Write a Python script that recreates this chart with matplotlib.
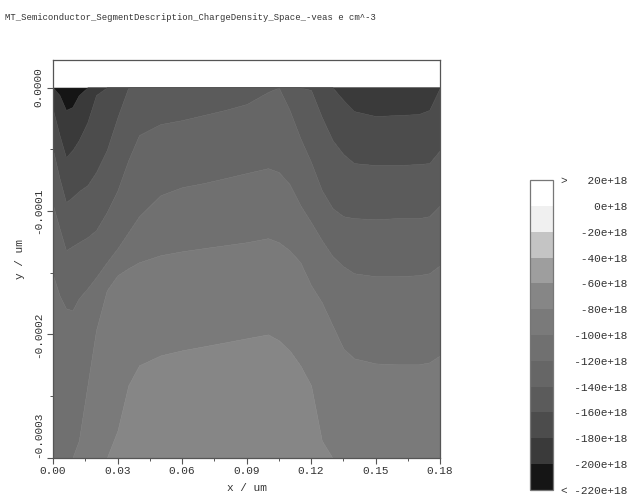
import numpy as np
import matplotlib
matplotlib.use("Agg")
import matplotlib.pyplot as plt
from matplotlib.colors import ListedColormap, BoundaryNorm
from matplotlib.cm import ScalarMappable

x_um = [0.000, 0.003, 0.006, 0.009, 0.012, 0.016, 0.020, 0.025, 0.030, 0.035,
        0.040, 0.050, 0.060, 0.070, 0.080, 0.090, 0.100, 0.105, 0.110, 0.115,
        0.120, 0.125, 0.130, 0.135, 0.140, 0.150, 0.160, 0.170, 0.175, 0.180]

# depth of each iso-line (units of 1e-5 um), from the darkest band downwards
b1 = [0.00, -0.61, -1.82, -1.58, -0.61, 0.00, 0.00, 0.00, 0.00, 0.00,
      0.00, 0.00, 0.00, 0.00, 0.00, 0.00, 0.00, 0.00, 0.00, 0.00,
      0.00, 0.00, 0.00, 0.00, 0.00, 0.00, 0.00, 0.00, 0.00, 0.00]
b2 = [-1.82, -3.85, -5.64, -5.07, -4.26, -2.80, -0.61, 0.00, 0.00, 0.00,
      0.00, 0.00, 0.00, 0.00, 0.00, 0.00, 0.00, 0.00, 0.00, 0.00,
      0.00, 0.00, 0.00, -1.01, -1.91, -2.31, -2.23, -2.15, -1.82, 0.00]
b3 = [-5.07, -7.34, -9.28, -8.88, -8.39, -7.91, -6.85, -5.07, -2.39, 0.00,
      0.00, 0.00, 0.00, 0.00, 0.00, 0.00, 0.00, 0.00, 0.00, 0.00,
      -0.20, -2.39, -4.26, -5.39, -6.12, -6.28, -6.28, -6.20, -6.12, -5.07]
b4 = [-9.53, -11.39, -13.18, -12.85, -12.53, -12.12, -11.55, -10.09, -8.31, -5.88,
      -3.85, -2.96, -2.64, -2.23, -1.82, -1.34, -0.36, 0.00, -1.82, -4.09,
      -6.04, -8.31, -9.77, -10.42, -10.58, -10.66, -10.58, -10.58, -10.42, -9.53]
b5 = [-15.20, -16.82, -17.88, -18.04, -17.07, -16.26, -15.36, -14.15, -13.01, -11.72,
      -10.42, -8.72, -8.07, -7.74, -7.34, -6.93, -6.53, -6.85, -7.82, -9.53,
      -10.91, -12.36, -13.66, -14.47, -15.04, -15.28, -15.28, -15.20, -15.04, -14.39]
b6 = [-30.00, -30.00, -30.00, -30.00, -28.58, -24.12, -19.66, -16.42, -15.20, -14.64,
      -14.15, -13.58, -13.26, -13.01, -12.77, -12.53, -12.20, -12.53, -13.18, -14.15,
      -16.01, -17.39, -19.26, -21.12, -21.93, -22.34, -22.42, -22.42, -22.26, -21.69]
b7 = [-30.00, -30.00, -30.00, -30.00, -30.00, -30.00, -30.00, -30.00, -27.77, -24.12,
      -22.50, -21.69, -21.28, -20.96, -20.64, -20.31, -19.99, -20.47, -21.28, -22.50,
      -24.12, -28.58, -30.00, -30.00, -30.00, -30.00, -30.00, -30.00, -30.00, -30.00]

# charge density of each band (e+18 cm^-3), top band first
band_values = [-210, -190, -170, -150, -130, -110, -90, -70]

levels = list(range(-220, 21, 20))
grays = ["#151515", "#3a3a3a", "#4c4c4c", "#5b5b5b", "#666666", "#707070",
         "#7a7a7a", "#868686", "#9e9e9e", "#c4c4c4", "#f0f0f0", "#ffffff"]

x_ticks = [0.00, 0.03, 0.06, 0.09, 0.12, 0.15, 0.18]
x_tick_labels = ["0.00", "0.03", "0.06", "0.09", "0.12", "0.15", "0.18"]
y_ticks = [0.0, -0.0001, -0.0002, -0.0003]
y_tick_labels = ["0.0000", "-0.0001", "-0.0002", "-0.0003"]

title = "MT_Semiconductor_SegmentDescription_ChargeDensity_Space_-veas e cm^-3"
mono = "Liberation Mono"

cmap = ListedColormap(grays)
norm = BoundaryNorm(levels, cmap.N)

fig = plt.figure(figsize=(6.32, 4.97), dpi=100)
ax = fig.add_axes([0.0839, 0.0785, 0.6123, 0.8008])

x = np.array(x_um)
top = np.zeros_like(x)
bottom = np.full_like(x, -0.0003)
bounds = [top] + [np.array(b) * 1e-5 for b in (b1, b2, b3, b4, b5, b6, b7)] + [bottom]

for k, val in enumerate(band_values):
    c = cmap(norm(val))
    ax.fill_between(x, bounds[k], bounds[k + 1], facecolor=c, edgecolor=c, lw=0.4)

ax.set_xlim(0, 0.18)
ax.set_ylim(-0.0003, 0.0000223)
ax.set_xticks(x_ticks)
ax.set_xticklabels(x_tick_labels, fontsize=8, family=mono, color="#333333")
ax.set_xticks(np.arange(0.015, 0.18, 0.03), minor=True)
ax.set_yticks(y_ticks)
ax.set_yticklabels(y_tick_labels, fontsize=8, family=mono, color="#333333",
                   rotation=90, va="center")
ax.get_yticklabels()[-1].set_va("bottom")
ax.set_yticks([-0.00005, -0.00015, -0.00025], minor=True)
ax.tick_params(which="major", direction="out", length=4, width=0.8, color="#555555")
ax.tick_params(axis="x", which="major", pad=1.5)
ax.tick_params(axis="y", which="major", pad=3)
ax.tick_params(which="minor", direction="out", length=2.5, width=0.7, color="#555555")
ax.set_xlabel("x / um", fontsize=8, family=mono, color="#333333", labelpad=5)
ax.set_ylabel("y / um", fontsize=8, family=mono, color="#333333", labelpad=6)
for s in ax.spines.values():
    s.set_color("#555555")
    s.set_linewidth(0.9)

fig.text(0.008, 1 - 17 / 497, title, fontsize=6.4, family=mono, color="#333333",
         va="center", ha="left")

# colour bar
cax = fig.add_axes([0.8386, 0.0141, 0.0364, 0.6237])
cb = fig.colorbar(ScalarMappable(norm=norm, cmap=cmap), cax=cax, ticks=levels)
cb.outline.set_edgecolor("#777777")
cb.outline.set_linewidth(0.9)
labels = []
for v in levels:
    prefix = ">" if v == levels[-1] else ("<" if v == levels[0] else " ")
    labels.append(prefix + f"{v}e+18".rjust(9))
cb.ax.set_yticklabels(labels, fontsize=8, family=mono, color="#333333")
cb.ax.tick_params(length=0, pad=6)

fig.savefig("out.png", dpi=100)
